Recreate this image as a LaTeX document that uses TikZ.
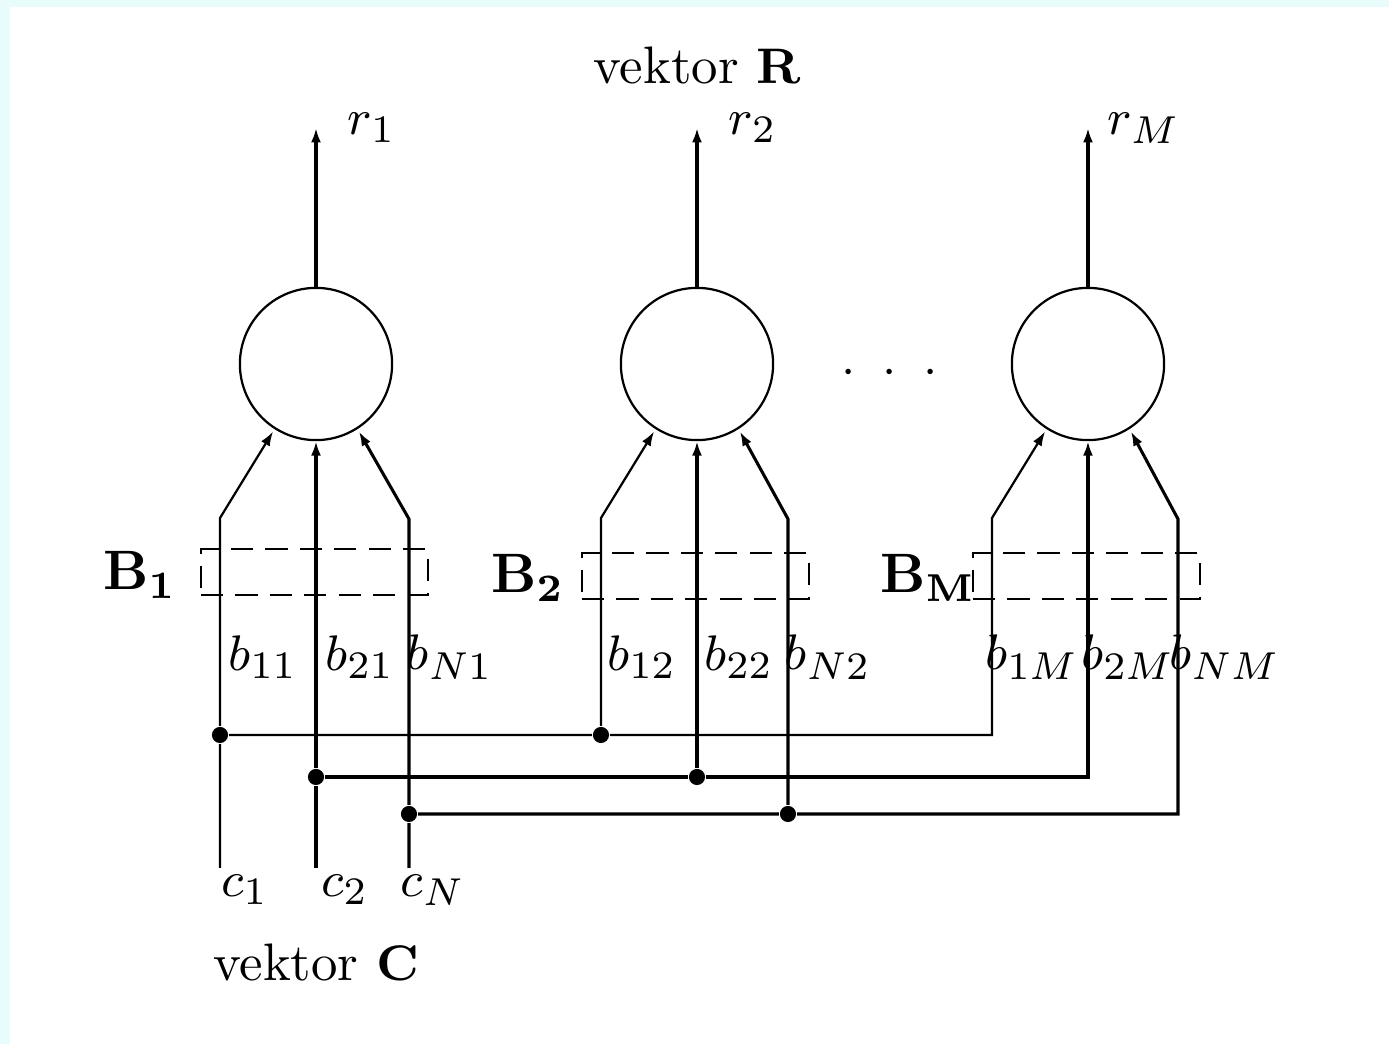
\documentclass[tikz,border=0pt]{standalone}
\usepackage{amsmath}
\usetikzlibrary{positioning, arrows.meta}
\definecolor{framecyan}{RGB}{232,252,252}

\begin{document}
\begin{tikzpicture}[
  x=0.18pt, y=-0.18pt,
  >={Latex[length=2.6pt,width=1.8pt]},
  every node/.style={inner sep=0pt, font=\fontsize{9.5}{11}\selectfont},
  neuron/.style = {circle, draw, line width=0.4pt, minimum size=27.4pt},
  bbox/.style   = {draw, dash pattern=on 4pt off 2.2pt, line width=0.45pt, minimum width=40.9pt, minimum height=8.2pt},
  joint/.style  = {circle, fill, minimum size=2.9pt},
  wire/.style   = {line width=0.4pt},
  wirec/.style  = {line width=0.55pt},
  blbl/.style   = {font=\fontsize{10}{12}\selectfont},
]
  \fill[framecyan] (0,0) rectangle (1389,1044);
  \fill[white] (10,7) rectangle (1389,1044);
  \useasboundingbox (0,0) rectangle (1389,1044);

  \node (vR) at (697,65)  {vektor $\mathbf{R}$};
  \node (vC) at (316,962) {vektor $\mathbf{C}$};

  % neurons, outputs, weight boxes
  \foreach \n/\x/\ex/\by in {1/316/409/572, 2/697/788/576, M/1088/1178/576}{
    \node[neuron] (n\n) at (\x,364) {};
    \coordinate (o\n) at (\x,128);
    \draw[wirec,->] (n\n) -- (o\n);
    \node (r\n) at (\x+56,128) {$r_\n$};
    \coordinate (a\n) at (\x-96,518);
    \coordinate (e\n) at (\ex,519);
    \node[bbox] (box\n) at (\x-1.5,\by) {};
  }
  \node (dots) at (890,373) {${\cdot}\hspace{4.8pt}{\cdot}\hspace{4.8pt}{\cdot}$};

  \node[blbl] (B1) at (140,575) {$\mathbf{B_1}$};
  \node[blbl] (B2) at (528,578) {$\mathbf{B_2}$};
  \node[blbl] (BM) at (928,578) {$\mathbf{B_M}$};

  \node (b11) at (263,657)  {$b_{11}$};
  \node (b21) at (360,657)  {$b_{21}$};
  \node (bN1) at (450,657)  {$b_{N1}$};
  \node (b12) at (642,657)  {$b_{12}$};
  \node (b22) at (739,657)  {$b_{22}$};
  \node (bN2) at (828,657)  {$b_{N2}$};
  \node (b1M) at (1032,657) {$b_{1M}$};
  \node (b2M) at (1128,657) {$b_{2M}$};
  \node (bNM) at (1225,657) {$b_{NM}$};

  % input vector C
  \coordinate (cin1) at (220,868);
  \coordinate (cin2) at (316,868);
  \coordinate (cinN) at (409,868);
  \node (c1) at (245,890) {$c_1$};
  \node (c2) at (345,890) {$c_2$};
  \node (cN) at (433,890) {$c_N$};

  \node[joint] (j11) at (220,735) {};
  \node[joint] (j12) at (601,735) {};
  \coordinate  (j1M) at (992,735);
  \node[joint] (j21) at (316,777) {};
  \node[joint] (j22) at (697,777) {};
  \coordinate  (j2M) at (1088,777);
  \node[joint] (jN1) at (409,814) {};
  \node[joint] (jN2) at (788,814) {};
  \coordinate  (jNM) at (1178,814);

  \draw[wire,->] (cin1) -- (j11) -- (a1) -- ([shift={(-2,2)}]n1.-122);
  \draw[wire,->] (j11) -- (j12) -- (a2) -- ([shift={(-2,2)}]n2.-122);
  \draw[wire,->] (j12) -- (j1M) -- (aM) -- ([shift={(-2,2)}]nM.-122);

  \draw[wirec,->] (cin2) -- (j21) -- (n1);
  \draw[wirec,->] (j21) -- (j22) -- (n2);
  \draw[wirec,->] (j22) -- (j2M) -- (nM);

  \draw[wirec,->] (cinN) -- (jN1) -- (e1) -- ([shift={(2,2)}]n1.-58);
  \draw[wirec,->] (jN1) -- (jN2) -- (e2) -- ([shift={(2,2)}]n2.-58);
  \draw[wirec,->] (jN2) -- (jNM) -- (eM) -- ([shift={(2,2)}]nM.-58);
\end{tikzpicture}
\end{document}
